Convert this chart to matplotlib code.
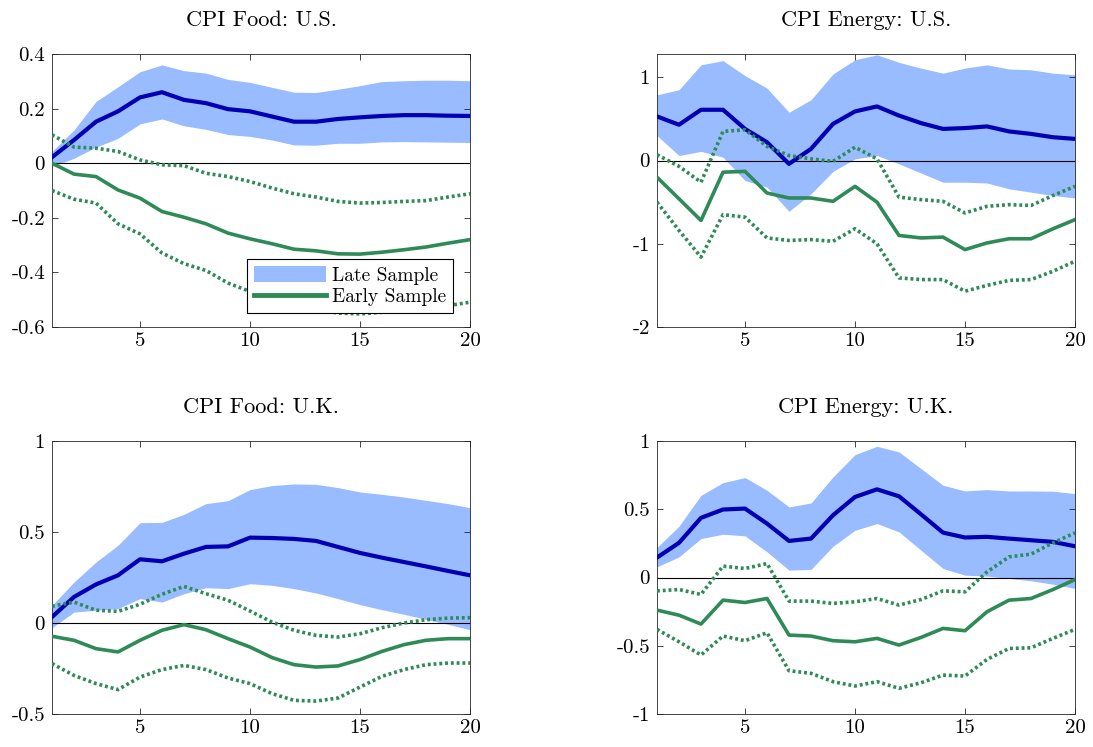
import numpy as np
import matplotlib
matplotlib.use("Agg")
import matplotlib.pyplot as plt
from matplotlib.ticker import FuncFormatter
from matplotlib.patches import Patch
from matplotlib.lines import Line2D

plt.rcParams['font.family'] = ['cmr10', 'DejaVu Serif']
plt.rcParams['mathtext.fontset'] = 'cm'
plt.rcParams['axes.unicode_minus'] = False

horizon = np.arange(1, 21)

# CPI Food: U.S.
us_food_late = [0.022, 0.085, 0.152, 0.19, 0.241, 0.26, 0.232, 0.22, 0.198, 0.19,
                0.171, 0.152, 0.152, 0.162, 0.168, 0.173, 0.176, 0.176, 0.174, 0.173]
us_food_late_hi = [0.043, 0.122, 0.226, 0.28, 0.335, 0.36, 0.339, 0.33, 0.307, 0.296,
                   0.278, 0.26, 0.259, 0.271, 0.284, 0.299, 0.302, 0.304, 0.304, 0.302]
us_food_late_lo = [-0.012, 0.018, 0.059, 0.091, 0.144, 0.162, 0.137, 0.124, 0.105, 0.098,
                   0.085, 0.067, 0.066, 0.073, 0.073, 0.078, 0.079, 0.078, 0.077, 0.076]
us_food_early = [0.0, -0.04, -0.049, -0.098, -0.128, -0.177, -0.198, -0.222, -0.256, -0.277,
                 -0.295, -0.315, -0.321, -0.332, -0.333, -0.326, -0.317, -0.307, -0.293, -0.28]
us_food_early_hi = [0.104, 0.059, 0.055, 0.043, 0.012, -0.006, -0.009, -0.037, -0.049, -0.067,
                    -0.091, -0.112, -0.124, -0.14, -0.146, -0.144, -0.14, -0.137, -0.124, -0.112]
us_food_early_lo = [-0.1, -0.132, -0.146, -0.222, -0.259, -0.329, -0.368, -0.393, -0.439, -0.47,
                    -0.494, -0.518, -0.534, -0.549, -0.552, -0.546, -0.539, -0.534, -0.522, -0.509]

# CPI Energy: U.S.
us_energy_late = [0.53, 0.43, 0.61, 0.61, 0.38, 0.22, -0.04, 0.14, 0.44, 0.59,
                  0.65, 0.54, 0.45, 0.38, 0.39, 0.41, 0.35, 0.32, 0.28, 0.26]
us_energy_late_hi = [0.79, 0.85, 1.15, 1.2, 1.02, 0.87, 0.58, 0.73, 1.04, 1.21,
                     1.27, 1.18, 1.11, 1.05, 1.11, 1.15, 1.1, 1.09, 1.05, 1.03]
us_energy_late_lo = [0.3, 0.06, 0.11, 0.04, -0.24, -0.32, -0.61, -0.4, -0.13, 0.02,
                     0.06, -0.04, -0.15, -0.26, -0.26, -0.27, -0.34, -0.38, -0.42, -0.45]
us_energy_early = [-0.2, -0.46, -0.72, -0.14, -0.13, -0.39, -0.45, -0.45, -0.49, -0.31,
                   -0.5, -0.9, -0.93, -0.92, -1.07, -0.99, -0.94, -0.94, -0.82, -0.71]
us_energy_early_hi = [0.07, -0.07, -0.26, 0.35, 0.37, 0.17, 0.06, 0.02, -0.01, 0.16,
                      0.02, -0.44, -0.47, -0.49, -0.63, -0.55, -0.53, -0.54, -0.42, -0.31]
us_energy_early_lo = [-0.5, -0.84, -1.16, -0.65, -0.68, -0.93, -0.96, -0.95, -0.97, -0.82,
                      -1.0, -1.41, -1.43, -1.43, -1.57, -1.5, -1.44, -1.43, -1.33, -1.21]

# CPI Food: U.K.
uk_food_late = [0.033, 0.143, 0.212, 0.262, 0.35, 0.339, 0.381, 0.418, 0.421, 0.469,
                0.467, 0.462, 0.451, 0.418, 0.385, 0.359, 0.335, 0.311, 0.286, 0.262]
uk_food_late_hi = [0.097, 0.225, 0.335, 0.427, 0.551, 0.553, 0.597, 0.656, 0.672, 0.733,
                   0.755, 0.764, 0.762, 0.744, 0.72, 0.707, 0.692, 0.674, 0.656, 0.634]
uk_food_late_lo = [-0.026, 0.06, 0.07, 0.079, 0.134, 0.115, 0.161, 0.194, 0.189, 0.216,
                   0.207, 0.189, 0.165, 0.134, 0.101, 0.073, 0.048, 0.02, -0.007, -0.037]
uk_food_early = [-0.073, -0.095, -0.141, -0.159, -0.095, -0.04, -0.009, -0.037, -0.086, -0.132,
                 -0.19, -0.229, -0.242, -0.236, -0.201, -0.156, -0.119, -0.095, -0.086, -0.086]
uk_food_early_hi = [0.092, 0.115, 0.07, 0.064, 0.103, 0.158, 0.201, 0.161, 0.125, 0.066,
                    0.005, -0.04, -0.068, -0.077, -0.059, -0.026, 0.0, 0.018, 0.027, 0.029]
uk_food_early_lo = [-0.223, -0.288, -0.333, -0.366, -0.297, -0.256, -0.233, -0.256, -0.302, -0.333,
                    -0.388, -0.425, -0.429, -0.412, -0.352, -0.293, -0.256, -0.229, -0.22, -0.22]

# CPI Energy: U.K.
uk_energy_late = [0.146, 0.254, 0.437, 0.498, 0.505, 0.395, 0.268, 0.285, 0.456, 0.59,
                  0.646, 0.595, 0.463, 0.329, 0.293, 0.298, 0.285, 0.273, 0.261, 0.229]
uk_energy_late_hi = [0.22, 0.376, 0.602, 0.695, 0.732, 0.639, 0.517, 0.546, 0.737, 0.9,
                     0.961, 0.92, 0.798, 0.676, 0.634, 0.644, 0.634, 0.634, 0.632, 0.615]
uk_energy_late_lo = [0.078, 0.151, 0.285, 0.317, 0.305, 0.188, 0.054, 0.059, 0.229, 0.346,
                     0.395, 0.334, 0.2, 0.066, 0.017, 0.01, -0.007, -0.024, -0.049, -0.08]
uk_energy_early = [-0.239, -0.276, -0.341, -0.166, -0.183, -0.154, -0.422, -0.429, -0.463, -0.471,
                   -0.446, -0.495, -0.439, -0.373, -0.39, -0.251, -0.166, -0.154, -0.088, -0.015]
uk_energy_early_hi = [-0.098, -0.088, -0.124, 0.083, 0.066, 0.102, -0.173, -0.173, -0.19, -0.178,
                      -0.154, -0.202, -0.161, -0.098, -0.105, 0.041, 0.151, 0.171, 0.254, 0.327]
uk_energy_early_lo = [-0.38, -0.471, -0.568, -0.429, -0.463, -0.405, -0.683, -0.702, -0.763, -0.795,
                      -0.763, -0.812, -0.771, -0.715, -0.722, -0.6, -0.52, -0.515, -0.446, -0.38]

titles = ["CPI Food: U.S.", "CPI Energy: U.S.", "CPI Food: U.K.", "CPI Energy: U.K."]
ylims = [(-0.6, 0.4), (-2, 1.28), (-0.5, 1), (-1, 1)]
yticks = [[-0.6, -0.4, -0.2, 0, 0.2, 0.4], [-2, -1, 0, 1], [-0.5, 0, 0.5, 1], [-1, -0.5, 0, 0.5, 1]]

panels = [
    (us_food_late, us_food_late_lo, us_food_late_hi, us_food_early, us_food_early_lo, us_food_early_hi),
    (us_energy_late, us_energy_late_lo, us_energy_late_hi, us_energy_early, us_energy_early_lo, us_energy_early_hi),
    (uk_food_late, uk_food_late_lo, uk_food_late_hi, uk_food_early, uk_food_early_lo, uk_food_early_hi),
    (uk_energy_late, uk_energy_late_lo, uk_energy_late_hi, uk_energy_early, uk_energy_early_lo, uk_energy_early_hi),
]

band_color = "#99BBFF"
late_color = "#0000B3"
early_color = "#2E8B57"

W, H = 1093, 747
fig = plt.figure(figsize=(W / 100, H / 100), dpi=100)
# axes boxes in pixels: left, top, right, bottom
boxes = [(52, 54, 470, 327), (657, 54, 1075, 327), (52, 441, 470, 714), (657, 441, 1075, 714)]

fmt = FuncFormatter(lambda v, p: "%g" % v)

for i, (late, lo, hi, early, elo, ehi) in enumerate(panels):
    l, t, r, b = boxes[i]
    ax = fig.add_axes([l / W, 1 - b / H, (r - l) / W, (b - t) / H])
    ax.fill_between(horizon, lo, hi, color=band_color, linewidth=0, zorder=1)
    ax.plot(horizon, late, color=late_color, lw=3.0, zorder=3)
    ax.plot(horizon, early, color=early_color, lw=2.6, zorder=3)
    ax.plot(horizon, elo, color=early_color, lw=2.6, ls=(0, (0.8, 0.8)), zorder=3)
    ax.plot(horizon, ehi, color=early_color, lw=2.6, ls=(0, (0.8, 0.8)), zorder=3)
    ax.axhline(0, color="black", lw=0.8, zorder=2)
    ax.set_xlim(1, 20)
    ax.set_ylim(*ylims[i])
    ax.set_xticks([5, 10, 15, 20])
    ax.set_yticks(yticks[i])
    ax.yaxis.set_major_formatter(fmt)
    ax.tick_params(direction="in", top=True, right=True, labelsize=15, length=4,
                   width=0.6, color="#262626")
    ax.tick_params(axis="y", pad=5)
    ax.tick_params(axis="x", pad=3.5)
    for sp in ax.spines.values():
        sp.set_color("#262626")
        sp.set_linewidth(0.6)
    ax.set_title(titles[i], fontsize=16, pad=20)

    if i == 0:
        handles = [Patch(facecolor=band_color, edgecolor="none"),
                   Line2D([0], [0], color=early_color, lw=3.5)]
        leg = ax.legend(handles, ["Late Sample", "Early Sample"], loc="lower right",
                        bbox_to_anchor=(0.959, 0.051), borderaxespad=0,
                        fontsize=14, frameon=True, fancybox=False, framealpha=1,
                        edgecolor="black", handlelength=3.7, handleheight=0.9,
                        handletextpad=0.3, borderpad=0.35, labelspacing=0.15)
        leg.get_frame().set_linewidth(0.8)

fig.savefig("out.png", dpi=100)
